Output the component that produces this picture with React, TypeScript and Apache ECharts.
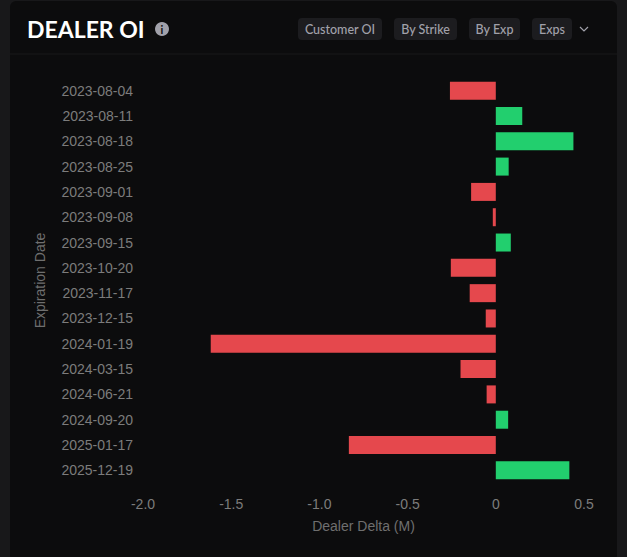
import React, { useEffect, useRef } from "react";
import * as echarts from "echarts";

const categories = ["2023-08-04","2023-08-11","2023-08-18","2023-08-25","2023-09-01","2023-09-08","2023-09-15","2023-10-20","2023-11-17","2023-12-15","2024-01-19","2024-03-15","2024-06-21","2024-09-20","2025-01-17","2025-12-19"];
const dealerDelta = [-0.26,0.15,0.44,0.073,-0.14,-0.017,0.085,-0.255,-0.148,-0.057,-1.616,-0.2,-0.052,0.07,-0.833,0.417];
const buttons = [
  { label: "Customer OI", x: 298, w: 84 },
  { label: "By Strike", x: 394, w: 63 },
  { label: "By Exp", x: 469, w: 51 },
  { label: "Exps", x: 532, w: 40 },
];
const RED = "#E5484D";
const GREEN = "#22CF6E";
const UI_FONT = "Lato, 'Noto Sans', sans-serif";
const AXIS_FONT = "'Liberation Sans', Arial, sans-serif";

export default function App() {
  const ref = useRef<HTMLDivElement>(null);
  useEffect(() => {
    document.body.style.margin = "0";
    document.body.style.background = "#18181a";
    const chart = echarts.init(ref.current!, undefined, { renderer: "svg" });
    chart.setOption({
      animation: false,
      backgroundColor: "#18181a",
      grid: { left: 143, right: 43, top: 78, bottom: 74, containLabel: false },
      xAxis: {
        type: "value", min: -2, max: 0.5, interval: 0.5,
        name: "Dealer Delta (M)", nameLocation: "middle", nameGap: 36,
        nameTextStyle: { color: "#6f6f6f", fontSize: 14, fontFamily: AXIS_FONT },
        axisLine: { show: false }, axisTick: { show: false },
        splitLine: { show: false },
        axisLabel: { color: "#7c7c7c", fontSize: 14, fontFamily: AXIS_FONT, margin: 14,
          formatter: (v: number) => (v === 0 ? "0" : v.toFixed(1)) },
      },
      yAxis: {
        type: "category", inverse: true, data: categories,
        name: "Expiration Date", nameLocation: "middle", nameGap: 96, nameRotate: 90,
        nameTextStyle: { color: "#6f6f6f", fontSize: 14, fontFamily: AXIS_FONT },
        axisLine: { show: false }, axisTick: { show: false }, splitLine: { show: false },
        axisLabel: { color: "#7c7c7c", fontSize: 14, fontFamily: AXIS_FONT, margin: 10 },
      },
      series: [{
        type: "bar", barWidth: 18,
        data: dealerDelta.map((v) => ({
          value: v,
          itemStyle: { color: v < 0 ? RED : GREEN },
        })),
      }],
      graphic: [
        { type: "rect", z: -10, silent: true, shape: { x: 10, y: 1, width: 607, height: 560, r: 6 }, style: { fill: "#0c0c0d" } },
        { type: "line", z: -9, silent: true, shape: { x1: 10, y1: 54, x2: 617, y2: 54 }, style: { stroke: "#18181a", lineWidth: 1 } },
        { type: "text", x: 27, y: 29, style: { text: "DEALER OI", fill: "#ffffff", font: `700 23px ${UI_FONT}`, textVerticalAlign: "middle", letterSpacing: 1.2 } },
        { type: "circle", shape: { cx: 162, cy: 29, r: 7 }, style: { fill: "#a1a1aa" } },
        { type: "text", x: 162, y: 29, style: { text: "i", fill: "#0c0c0d", font: `700 11px ${UI_FONT}`, textAlign: "center", textVerticalAlign: "middle" } },
        ...buttons.flatMap((b) => [
          { type: "rect", shape: { x: b.x, y: 18, width: b.w, height: 22, r: 4 }, style: { fill: "#1c1c1f" } },
          { type: "text", x: b.x + b.w / 2, y: 29, style: { text: b.label, fill: "#a1a1aa", font: `500 12.5px ${UI_FONT}`, textAlign: "center", textVerticalAlign: "middle" } },
        ]),
        { type: "polyline", shape: { points: [[580, 27], [584, 31], [588, 27]] }, style: { stroke: "#a1a1aa", lineWidth: 1.2, fill: "none" } },
      ],
    });
    return () => chart.dispose();
  }, []);
  return <div ref={ref} style={{ position: "fixed", left: 0, top: 0, width: 627, height: 557 }} />;
}
